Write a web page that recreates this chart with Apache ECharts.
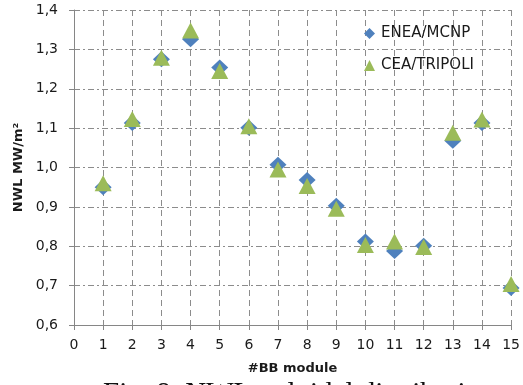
<!DOCTYPE html>
<html>
<head>
<meta charset="utf-8">
<script src="https://cdn.jsdelivr.net/npm/echarts@6/dist/echarts.min.js"></script>
<style>
html,body{margin:0;padding:0;background:#fff;}
#c{width:523px;height:385px;}
</style>
</head>
<body>
<div id="c"></div>
<script>
const modules = [1,2,3,4,5,6,7,8,9,10,11,12,13,14,15];
const eneaMcnp = [0.950,1.113,1.275,1.326,1.254,1.101,1.007,0.968,0.903,0.812,0.788,0.801,1.068,1.113,0.694];
const ceaTripoli = [0.960,1.123,1.279,1.348,1.245,1.105,0.995,0.953,0.895,0.803,0.812,0.798,1.088,1.122,0.704];
const yTickLabels = ['0,6','0,7','0,8','0,9','1,0','1,1','1,2','1,3','1,4'];
const xTickLabels = ['0','1','2','3','4','5','6','7','8','9','10','11','12','13','14','15'];

const chart = echarts.init(document.getElementById('c'), null, {renderer:'canvas'});
const font = 'DejaVu Sans';
chart.setOption({
  animation:false,
  backgroundColor:'#ffffff',
  grid:{left:74,right:9,top:10,bottom:60,containLabel:false},
  legend:{
    orient:'vertical', left:359, top:21, itemGap:17, itemWidth:11, itemHeight:11,
    textStyle:{fontFamily:font,fontSize:15,color:'#1a1a1a',padding:[0,0,0,1]},
    data:['ENEA/MCNP','CEA/TRIPOLI']
  },
  xAxis:{
    type:'value', min:0, max:15, interval:1,
    name:'#BB module', nameLocation:'middle', nameGap:37,
    nameTextStyle:{fontFamily:font,fontSize:13,fontWeight:'bold',color:'#1a1a1a'},
    axisLine:{lineStyle:{color:'#868686',width:1}},
    axisTick:{show:true,length:5,lineStyle:{color:'#868686'}},
    axisLabel:{margin:13,fontFamily:font,fontSize:14,color:'#1a1a1a',
      formatter:(v)=>xTickLabels[Math.round(v)]},
    splitLine:{show:true,lineStyle:{color:'#8c8c8c',width:1,type:[6,4]}}
  },
  yAxis:{
    type:'value', min:0.6, max:1.4, interval:0.1,
    name:'NWL MW/m\u00b2', nameLocation:'middle', nameGap:49, nameRotate:90,
    nameTextStyle:{fontFamily:font,fontSize:13,fontWeight:'bold',color:'#1a1a1a'},
    axisLine:{show:true,lineStyle:{color:'#868686',width:1}},
    axisTick:{show:true,length:5,lineStyle:{color:'#868686'}},
    axisLabel:{margin:16,fontFamily:font,fontSize:14,color:'#1a1a1a',
      formatter:(v)=>yTickLabels[Math.round((v-0.6)/0.1)]},
    splitLine:{show:true,lineStyle:{color:'#8c8c8c',width:1,type:[6,3,2,3]}}
  },
  series:[
    {name:'ENEA/MCNP', type:'scatter', symbol:'diamond', symbolSize:[17,16],
     itemStyle:{color:'#4f81bd',opacity:1},
     data:modules.map((m,i)=>[m,eneaMcnp[i]])},
    {name:'CEA/TRIPOLI', type:'scatter', symbol:'triangle', symbolSize:[17,16],
     itemStyle:{color:'#9bbb59',opacity:1},
     data:modules.map((m,i)=>[m,ceaTripoli[i]])}
  ],
  graphic:[{
    type:'text', left:103, top:380,
    style:{text:'Fig. 8. NWL poloidal distribution', font:'29px "Liberation Serif"', fill:'#111'}
  }]
});
</script>
</body>
</html>
